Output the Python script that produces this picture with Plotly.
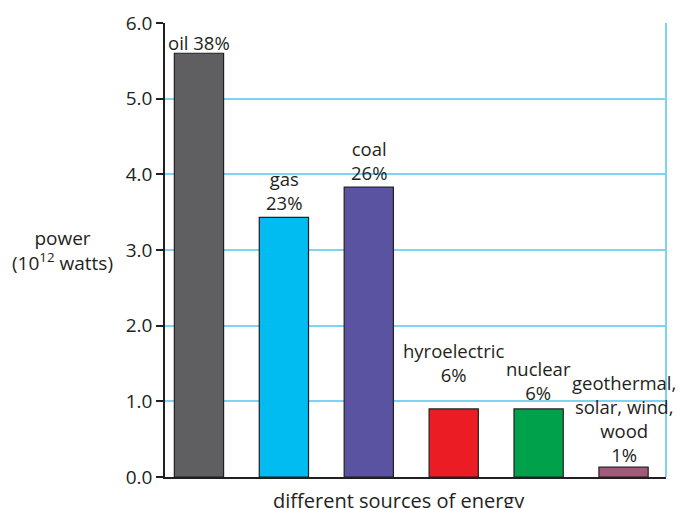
import plotly.graph_objects as go

sources = ["oil", "gas", "coal", "hydroelectric", "nuclear", "other"]
power = [5.6, 3.43, 3.83, 0.9, 0.9, 0.13]
bar_labels = [
    "oil 38%",
    "gas<br>23%",
    "coal<br>26%",
    "hyroelectric<br>6%",
    "nuclear<br>6%",
    "geothermal,<br>solar, wind,<br>wood<br>1%",
]
label_gap = [-4, 0, 0, 20, 2, -2]
colors = ["#5f5f61", "#00bcf0", "#5953a1", "#ec1c24", "#00a14b", "#a35a78"]
yticks = [0, 1, 2, 3, 4, 5, 6]

FONT = "Open Sans"
INK = "#231f20"
GRID = "#7fd3f2"

fig = go.Figure(
    go.Bar(
        x=list(range(len(sources))),
        y=power,
        width=0.58,
        marker=dict(color=colors, line=dict(color=INK, width=1.2)),
        hoverinfo="skip",
    )
)

for i, (txt, v) in enumerate(zip(bar_labels, power)):
    fig.add_annotation(
        x=i, y=v, text=txt, showarrow=False, xanchor="center", yanchor="bottom",
        yshift=label_gap[i], font=dict(family=FONT, size=18.5, color=INK),
    )

fig.add_annotation(
    xref="paper", yref="paper", x=-0.204, y=0.5, text="power<br>(10<sup>12</sup> watts)",
    showarrow=False, xanchor="center", yanchor="middle",
    font=dict(family=FONT, size=19, color=INK),
)
fig.add_annotation(
    xref="paper", yref="paper", x=0.467, y=0, yshift=-8, text="different sources of energy",
    showarrow=False, xanchor="center", yanchor="top",
    font=dict(family=FONT, size=20, color=INK),
)
# light blue right border of the plot area
fig.add_shape(type="line", xref="paper", yref="paper", x0=1, x1=1, y0=0, y1=1,
              line=dict(color=GRID, width=2))

# page body has an 8px margin, so the figure is offset by it
fig.update_layout(
    width=672, height=500,
    margin=dict(l=157, r=14, t=15, b=31, autoexpand=False),
    plot_bgcolor="white", paper_bgcolor="white",
    showlegend=False,
    xaxis=dict(
        range=[-0.4, 5.5], showticklabels=False, ticks="", showgrid=False,
        showline=True, linecolor=INK, linewidth=1.5, zeroline=False, automargin=False,
    ),
    yaxis=dict(
        range=[0, 6], tickvals=yticks, ticktext=[f"{v:.1f}" for v in yticks],
        ticks="outside", ticklen=7, tickcolor=INK, tickwidth=1.5,
        showline=True, linecolor=INK, linewidth=1.5, automargin=False,
        showgrid=True, gridcolor=GRID, gridwidth=2, zeroline=False,
        tickfont=dict(family=FONT, size=19, color=INK),
    ),
)

fig.write_html("out.html")
